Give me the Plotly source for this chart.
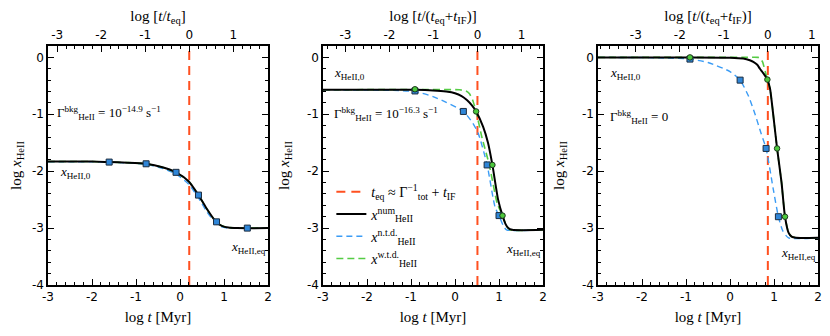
import plotly.graph_objects as go

# ---- data ------------------------------------------------------------------
t_eq_log = [0.21, 0.51, 0.86]  # log t_eq (+ t_IF) in Myr, one per panel

# panel 1 (Gamma_bkg = 1e-14.9)
p1_num_x = [-3, -2, -1.6, -1.2, -0.77, -0.4, -0.09, 0.2, 0.42, 0.6, 0.83, 0.95, 1.1, 1.3, 2]
p1_num_y = [-1.83, -1.83, -1.84, -1.85, -1.87, -1.93, -2.02, -2.18, -2.42, -2.65, -2.9, -2.96, -2.99, -3.0, -3.0]
p1_ntd_y = [-1.835, -1.835, -1.845, -1.855, -1.88, -1.95, -2.05, -2.23, -2.47, -2.7, -2.93, -2.98, -3.0, -3.005, -3.005]
p1_sq_x = [-1.61, -0.77, -0.09, 0.42, 0.83, 1.53]
p1_sq_y = [-1.84, -1.87, -2.02, -2.42, -2.89, -3.0]

# panel 2 (Gamma_bkg = 1e-16.3)
p2_num_x = [-3, -1.5, -0.91, -0.5, -0.2, 0.0, 0.15, 0.27, 0.38, 0.48, 0.64, 0.75, 0.85, 0.98, 1.08, 1.15, 1.21, 1.3, 2]
p2_num_y = [-0.57, -0.57, -0.57, -0.58, -0.6, -0.63, -0.68, -0.75, -0.84, -0.95, -1.22, -1.5, -1.89, -2.5, -2.78, -2.93, -3.0, -3.03, -3.03]
p2_ntd_x = [-3, -2, -1.4, -0.91, -0.5, -0.2, 0.19, 0.4, 0.53, 0.73, 0.91, 1.0, 1.1, 1.17, 2]
p2_ntd_y = [-0.57, -0.575, -0.58, -0.6, -0.69, -0.79, -0.95, -1.15, -1.34, -1.89, -2.63, -2.78, -2.96, -3.03, -3.03]
p2_wtd_x = [-3, -0.91, 0.1, 0.25, 0.33, 0.4, 0.48, 0.61, 0.78, 0.96, 1.08, 1.17, 1.25, 2]
p2_wtd_y = [-0.57, -0.565, -0.57, -0.59, -0.64, -0.75, -0.95, -1.4, -1.89, -2.57, -2.78, -2.96, -3.03, -3.03]
p2_sq_x = [-0.91, 0.19, 0.73, 1.0]
p2_sq_y = [-0.59, -0.95, -1.89, -2.78]
p2_ci_x = [-0.91, 0.48, 0.85, 1.08]
p2_ci_y = [-0.56, -0.95, -1.89, -2.78]

# panel 3 (Gamma_bkg = 0)
p3_num_x = [-3, -0.91, 0.0, 0.3, 0.45, 0.53, 0.62, 0.68, 0.76, 0.85, 0.91, 0.98, 1.07, 1.17, 1.25, 1.33, 1.4, 1.5, 2]
p3_num_y = [0, 0, -0.005, -0.02, -0.05, -0.08, -0.13, -0.2, -0.28, -0.39, -0.55, -0.99, -1.6, -2.19, -2.8, -3.08, -3.15, -3.17, -3.17]
p3_ntd_x = [-3, -2, -1.5, -0.91, -0.5, 0.0, 0.23, 0.42, 0.57, 0.7, 0.82, 0.98, 1.1, 1.2, 1.33, 2]
p3_ntd_y = [0, -0.003, -0.01, -0.03, -0.09, -0.25, -0.4, -0.68, -1.0, -1.32, -1.6, -2.3, -2.8, -3.05, -3.17, -3.17]
p3_wtd_x = [-3, -0.91, 0.3, 0.64, 0.7, 0.74, 0.85, 0.91, 0.98, 1.07, 1.17, 1.25, 1.33, 1.4, 1.5, 2]
p3_wtd_y = [0, 0, 0, 0, -0.03, -0.08, -0.39, -0.55, -0.99, -1.6, -2.19, -2.8, -3.08, -3.15, -3.17, -3.17]
p3_sq_x = [-0.91, 0.23, 0.82, 1.10]
p3_sq_y = [-0.03, -0.40, -1.60, -2.80]
p3_ci_x = [-0.91, 0.85, 1.07, 1.25]
p3_ci_y = [0, -0.39, -1.60, -2.80]

major_ticks = [-4, -3, -2, -1, 0, 1, 2]
major_text = ["-4", "-3", "-2", "-1", "0", "1", "2"]

# ---- styling ----------------------------------------------------------------
RED = "#ff5020"
BLUE = "#3b9cf5"
GREEN = "#55cc44"
SERIF = "Liberation Serif"
SANS = "DejaVu Sans"

panels = [
    dict(num=(p1_num_x, p1_num_y), ntd=(p1_num_x, p1_ntd_y), wtd=(p1_num_x, p1_num_y),
         sq=(p1_sq_x, p1_sq_y), ci=None),
    dict(num=(p2_num_x, p2_num_y), ntd=(p2_ntd_x, p2_ntd_y), wtd=(p2_wtd_x, p2_wtd_y),
         sq=(p2_sq_x, p2_sq_y), ci=(p2_ci_x, p2_ci_y)),
    dict(num=(p3_num_x, p3_num_y), ntd=(p3_ntd_x, p3_ntd_y), wtd=(p3_wtd_x, p3_wtd_y),
         sq=(p3_sq_x, p3_sq_y), ci=(p3_ci_x, p3_ci_y)),
]

top_titles = [
    "log [<i>t</i>/<i>t</i><sub>eq</sub>]",
    "log [<i>t</i>/(<i>t</i><sub>eq</sub>+<i>t</i><sub>IF</sub>)]",
    "log [<i>t</i>/(<i>t</i><sub>eq</sub>+<i>t</i><sub>IF</sub>)]",
]
gamma_text = [
    "Γ<sup>bkg</sup><sub>HeII</sub> = 10<sup>−14.9</sup> s<sup>−1</sup>",
    "Γ<sup>bkg</sup><sub>HeII</sub> = 10<sup>−16.3</sup> s<sup>−1</sup>",
    "Γ<sup>bkg</sup><sub>HeII</sub> = 0",
]
gamma_pos = [(-2.84, -0.98), (-2.8, -0.99), (-2.77, -1.05)]
x0_pos = [(-2.77, -2.03), (-2.8, -0.29), (-2.77, -0.29)]
xeq_pos = [(2.0, -3.34), (2.0, -3.37), (2.0, -3.44)]

domains = [[0, 220 / 770], [275 / 770, 495 / 770], [550 / 770, 1]]

fig = go.Figure()
annotations = []
layout = {}

for i, p in enumerate(panels):
    n = i + 1
    xa = "x" if n == 1 else f"x{n}"
    ya = "y" if n == 1 else f"y{n}"
    xt = f"x{n + 3}"
    leg = n == 2

    # t_eq marker line
    fig.add_trace(go.Scatter(
        x=[t_eq_log[i], t_eq_log[i]], y=[-4, 0.2], xaxis=xa, yaxis=ya, mode="lines",
        line=dict(color=RED, width=2, dash="9px,6px"),
        name="<i>t</i><sub>eq</sub> ≈ Γ<sup>−1</sup><sub>tot</sub> + <i>t</i><sub>IF</sub>",
        legendgroup="a", showlegend=leg, hoverinfo="skip"))
    fig.add_trace(go.Scatter(
        x=p["ntd"][0], y=p["ntd"][1], xaxis=xa, yaxis=ya, mode="lines",
        line=dict(color=BLUE, width=1.4, dash="6px,4px", shape="spline", smoothing=0.6),
        showlegend=False))
    fig.add_trace(go.Scatter(
        x=p["wtd"][0], y=p["wtd"][1], xaxis=xa, yaxis=ya, mode="lines",
        line=dict(color=GREEN, width=1.6, dash="7px,4px", shape="spline", smoothing=0.5),
        showlegend=False))
    fig.add_trace(go.Scatter(
        x=p["num"][0], y=p["num"][1], xaxis=xa, yaxis=ya, mode="lines",
        line=dict(color="black", width=2, shape="spline", smoothing=0.6),
        name="<i>x</i><sup>num</sup><sub>HeII</sub>", legendgroup="b", showlegend=leg))
    if leg:
        # legend entries for the dashed models, in the reference order
        fig.add_trace(go.Scatter(
            x=[None], y=[None], xaxis=xa, yaxis=ya, mode="lines",
            line=dict(color=BLUE, width=1.4, dash="6px,4px"), legendgroup="c",
            name="<i>x</i><sup>n.t.d.</sup><sub>HeII</sub>"))
        fig.add_trace(go.Scatter(
            x=[None], y=[None], xaxis=xa, yaxis=ya, mode="lines",
            line=dict(color=GREEN, width=1.6, dash="7px,4px"), legendgroup="d",
            name="<i>x</i><sup>w.t.d.</sup><sub>HeII</sub>"))
    fig.add_trace(go.Scatter(
        x=p["sq"][0], y=p["sq"][1], xaxis=xa, yaxis=ya, mode="markers",
        marker=dict(symbol="square", size=6, color="#2f86d8",
                    line=dict(color="#1b2c3f", width=1)),
        showlegend=False))
    if p["ci"]:
        fig.add_trace(go.Scatter(
            x=p["ci"][0], y=p["ci"][1], xaxis=xa, yaxis=ya, mode="markers",
            marker=dict(symbol="circle", size=5.5, color="#4cc83c",
                        line=dict(color="#1d3a1d", width=1)),
            showlegend=False))
    # dummy trace so the top axis is drawn
    fig.add_trace(go.Scatter(x=[None], y=[None], xaxis=xt, yaxis=ya,
                             showlegend=False, hoverinfo="skip"))

    axis_common = dict(showline=True, linecolor="black", linewidth=1.5, automargin=False,
                       ticks="inside", ticklen=6, tickwidth=1.3, tickcolor="black",
                       showgrid=False, zeroline=False,
                       tickfont=dict(family=SANS, size=12, color="black"))
    minor = dict(tickmode="linear", tick0=0, dtick=0.2, ticks="inside",
                 ticklen=3, tickwidth=1, tickcolor="black")
    tfont = dict(family=SERIF, size=15, color="black")
    layout["xaxis" if n == 1 else f"xaxis{n}"] = dict(
        axis_common, domain=domains[i], anchor=ya, range=[-3, 2],
        tickmode="array", tickvals=major_ticks, ticktext=major_text, minor=minor,
        title=dict(text="log <i>t</i> [Myr]", font=tfont, standoff=8))
    layout["yaxis" if n == 1 else f"yaxis{n}"] = dict(
        axis_common, domain=[0, 1], anchor=xa, range=[-4, 0.2], mirror="ticks",
        tickmode="array", tickvals=major_ticks[:5], ticktext=major_text[:5], minor=minor,
        title=dict(text="log <i>x</i><sub>HeII</sub>", font=tfont, standoff=14))
    layout[f"xaxis{n + 3}"] = dict(
        axis_common, overlaying=xa, anchor=ya, side="top",
        range=[-3 - t_eq_log[i], 2 - t_eq_log[i]],
        tickmode="array", tickvals=major_ticks[1:6], ticktext=major_text[1:6], minor=minor,
        title=dict(text=top_titles[i], font=tfont, standoff=7))

    afont = dict(family=SERIF, size=13, color="black")
    annotations.append(dict(x=gamma_pos[i][0], y=gamma_pos[i][1], xref=xa, yref=ya,
                            text=gamma_text[i], showarrow=False, xanchor="left",
                            yanchor="middle", font=afont))
    annotations.append(dict(x=x0_pos[i][0], y=x0_pos[i][1], xref=xa, yref=ya,
                            text="<i>x</i><sub>HeII,0</sub>", showarrow=False,
                            xanchor="left", yanchor="middle", font=afont))
    annotations.append(dict(x=xeq_pos[i][0], y=xeq_pos[i][1], xref=xa, yref=ya,
                            text="<i>x</i><sub>HeII,eq</sub>", showarrow=False,
                            xanchor="right", yanchor="middle", font=afont))

# the page body adds an 8px offset, so the figure is slightly smaller than the window
fig.update_layout(
    **layout,
    annotations=annotations,
    width=822, height=328,
    margin=dict(l=40, r=12, t=38, b=51),
    paper_bgcolor="white", plot_bgcolor="white",
    legend=dict(x=0.368, y=0.455, xanchor="left", yanchor="top",
                bgcolor="rgba(0,0,0,0)", font=dict(family=SERIF, size=14, color="black"),
                itemwidth=30, tracegroupgap=1),
    showlegend=True,
)

fig.write_html("out.html")
